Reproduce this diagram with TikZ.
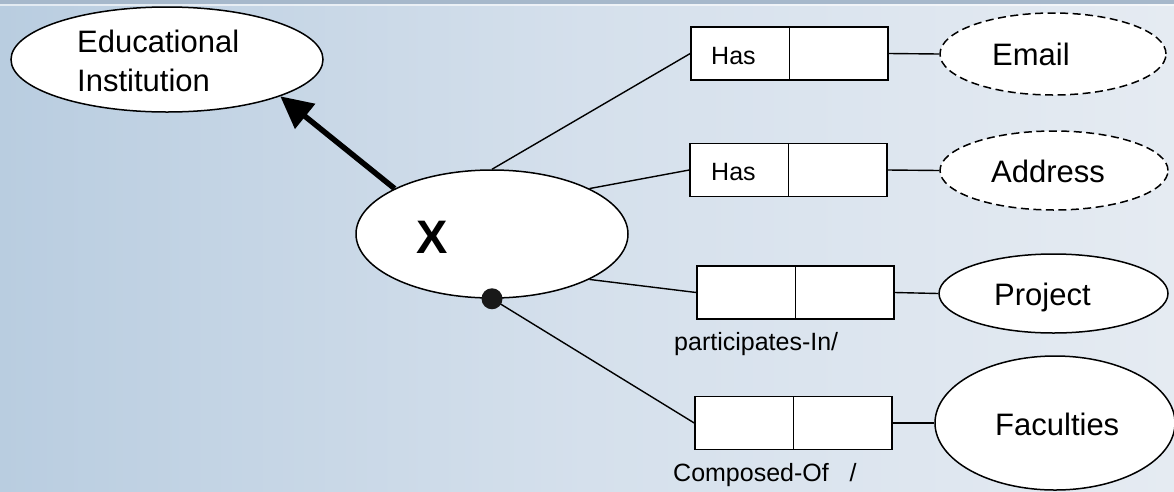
\documentclass[tikz,border=0pt]{standalone}
\usepackage{fontspec}
\setmainfont{Liberation Sans}
\usetikzlibrary{shapes.geometric,arrows.meta}
\definecolor{bgL}{HTML}{B9CDE0}
\definecolor{bgM}{HTML}{D5E0EC}
\definecolor{bgR}{HTML}{E5EBF2}
\definecolor{topbar}{HTML}{A6B8CB}
\begin{document}
\begin{tikzpicture}[x=1pt,y=-1pt,
  ent/.style={ellipse,draw=black,line width=1.5pt,fill=white,inner sep=0pt},
  weak/.style={ent,dash pattern=on 8pt off 4.5pt},
  half/.style={rectangle,draw=black,line width=1.5pt,fill=white,minimum width=98.5pt,minimum height=53pt,inner sep=0pt},
  conn/.style={line width=1.4pt,draw=black},
  bigtxt/.style={font=\fontsize{31}{37}\selectfont,inner sep=0pt,anchor=base west},
  smalltxt/.style={font=\fontsize{25}{30}\selectfont,inner sep=0pt,anchor=base west}]
\useasboundingbox (0,0) rectangle (1174,491);
\fill[left color=bgL,right color=bgR,middle color=bgM] (0,0) rectangle (1174,491);
\fill[topbar] (0,0) rectangle (1174,4);
\fill[white,opacity=0.6] (0,4) rectangle (1174,5.5);

% entities
\node[ent,minimum width=312pt,minimum height=105pt] (EI) at (167,59.5) {};
\node[bigtxt] (EIt1) at (77,52) {Educational};
\node[bigtxt] (EIt2) at (77,91) {Institution};

\node[ent,minimum width=272pt,minimum height=128pt] (X) at (492,234) {};
\node[font=\fontsize{47}{50}\selectfont\bfseries,inner sep=0pt,anchor=base west] (Xt) at (416,253) {X};

\node[weak,minimum width=226pt,minimum height=82pt] (Email) at (1053,54) {};
\node[bigtxt] (Emailt) at (992,65) {Email};
\node[weak,minimum width=228pt,minimum height=79pt] (Addr) at (1054,170.5) {};
\node[bigtxt] (Addrt) at (991,182) {Address};
\node[ent,minimum width=229pt,minimum height=79pt] (Proj) at (1053.5,293.5) {};
\node[bigtxt] (Projt) at (994,305) {Project};
\node[ent,minimum width=240pt,minimum height=134pt] (Fac) at (1055,423) {};
\node[bigtxt] (Fact) at (995,435) {Faculties};

% relationship boxes
\node[half] (b1l) at (740.25,53.5) {};
\node[half] (b1r) at (838.75,53.5) {};
\node[smalltxt] (has1) at (711,64) {Has};
\node[half] (b2l) at (739.25,170) {};
\node[half] (b2r) at (837.75,170) {};
\node[smalltxt] (has2) at (711,180) {Has};
\node[half] (b3l) at (746.25,292.5) {};
\node[half] (b3r) at (844.75,292.5) {};
\node[smalltxt] (lab3) at (674,350) {participates-In/};
\node[half] (b4l) at (744.25,423) {};
\node[half] (b4r) at (842.75,423) {};
\node[smalltxt] (lab4) at (673,481) {Composed-Of\ \ \ /};

% connectors
\draw[conn] (X.north) -- (b1l.west);
\draw[conn] (X.25) -- (b2l.west);
\draw[conn] (X.-25) -- (b3l.west);
\draw[conn] (X.south) -- (b4l.west);
\draw[conn] (b1r.east) -- (Email.west);
\draw[conn] (b2r.east) -- (Addr.west);
\draw[conn] (b3r.east) -- (Proj.west);
\draw[conn] (b4r.east) -- (Fac.west);
\fill[black!90] (X.south) circle (10.5pt);
\draw[line width=5.5pt,-{Triangle[length=32pt,width=31pt]}] (X.155) -- (EI.-18);
\end{tikzpicture}
\end{document}
